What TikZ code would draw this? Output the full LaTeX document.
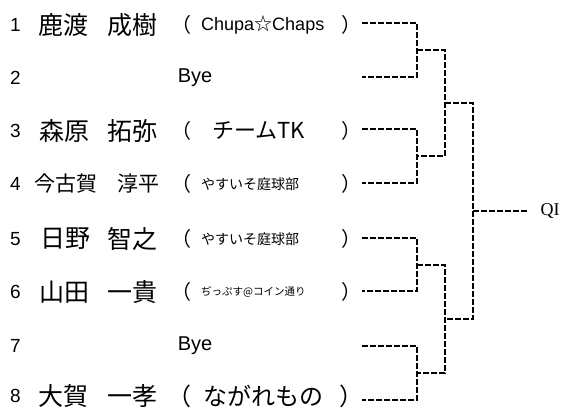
\documentclass[tikz,border=0pt]{standalone}
\usepackage{fontspec}
\setmainfont{Liberation Sans}
\newfontfamily\jp{Noto Sans CJK JP}
\newfontfamily\tms{Liberation Serif}
\begin{document}
\begin{tikzpicture}[x=1pt,y=-1pt,
  num/.style={font=\fontsize{19}{22}\selectfont, anchor=west, inner sep=0pt},
  nm/.style={font=\jp\fontsize{25}{30}\selectfont, anchor=west, inner sep=0pt},
  nmsmall/.style={font=\jp\fontsize{21}{25}\selectfont, anchor=west, inner sep=0pt},
  lp/.style={font=\jp\fontsize{20}{24}\selectfont, anchor=east, inner sep=0pt},
  rp/.style={font=\jp\fontsize{20}{24}\selectfont, anchor=west, inner sep=0pt},
  aff/.style={anchor=west, inner sep=0pt},
  bye/.style={font=\fontsize{20}{24}\selectfont, inner sep=0pt},
  bk/.style={line width=1.3pt, dash pattern=on 6pt off 2pt}]
\useasboundingbox (0,0) rectangle (574,410);
% row 1
\node[num] (n1) at (10,25) {1};
\node[nm] (a1) at (38,25) {鹿渡};
\node[nm] (b1) at (107,25) {成樹};
\node[lp] (l1) at (192,25) {（};
\node[aff, font=\fontsize{18}{22}\selectfont] (t1) at (201,25) {Chupa{\jp ☆}Chaps};
\node[rp] (r1) at (341,25) {）};
% row 2
\node[num] (n2) at (10,78) {2};
\node[bye] (t2) at (195,78) {Bye};
% row 3
\node[num] (n3) at (10,131) {3};
\node[nm] (a3) at (39,131) {森原};
\node[nm] (b3) at (107,131) {拓弥};
\node[lp] (l3) at (192,131) {（};
\node[aff, font=\jp\fontsize{22}{26}\selectfont] (t3) at (212,131) {チームTK};
\node[rp] (r3) at (341,131) {）};
% row 4
\node[num] (n4) at (10,184) {4};
\node[nmsmall] (a4) at (34,184) {今古賀};
\node[nmsmall] (b4) at (117,184) {淳平};
\node[lp] (l4) at (192,184) {（};
\node[aff, font=\jp\fontsize{14}{17}\selectfont] (t4) at (201,184) {やすいそ庭球部};
\node[rp] (r4) at (341,184) {）};
% row 5
\node[num] (n5) at (10,239) {5};
\node[nm] (a5) at (40,239) {日野};
\node[nm] (b5) at (107,239) {智之};
\node[lp] (l5) at (192,239) {（};
\node[aff, font=\jp\fontsize{14}{17}\selectfont] (t5) at (201,239) {やすいそ庭球部};
\node[rp] (r5) at (341,239) {）};
% row 6
\node[num] (n6) at (10,292) {6};
\node[nm] (a6) at (39,292) {山田};
\node[nm] (b6) at (107,292) {一貴};
\node[lp] (l6) at (192,292) {（};
\node[aff, font=\jp\fontsize{10.5}{13}\selectfont] (t6) at (201,292) {ぢっぷす@コイン通り};
\node[rp] (r6) at (341,292) {）};
% row 7
\node[num] (n7) at (10,346) {7};
\node[bye] (t7) at (195,346) {Bye};
% row 8
\node[num] (n8) at (10,396) {8};
\node[nm] (a8) at (38,396) {大賀};
\node[nm] (b8) at (107,396) {一孝};
\node[lp, font=\jp\fontsize{24}{28}\selectfont] (l8) at (192,396) {（};
\node[aff, font=\jp\fontsize{24}{28}\selectfont] (t8) at (203,396) {ながれもの};
\node[rp, font=\jp\fontsize{24}{28}\selectfont] (r8) at (339,396) {）};
% line starts
\coordinate (s1) at (362,23);
\coordinate (s2) at (362,77);
\coordinate (s3) at (362,129);
\coordinate (s4) at (362,183);
\coordinate (s5) at (362,238);
\coordinate (s6) at (362,291);
\coordinate (s7) at (362,346);
\coordinate (s8) at (362,400);
% bracket joints
\coordinate (m12) at (417,50);
\coordinate (m34) at (417,156);
\coordinate (m56) at (417,265);
\coordinate (m78) at (417,373);
\coordinate (m1234) at (445,103);
\coordinate (m5678) at (445,319);
\coordinate (mall) at (473,211);
\coordinate (q) at (528,211);
\node[font=\tms\fontsize{18}{22}\selectfont, inner sep=0pt] (qi) at (550,211) {QI};
% brackets
\draw[bk] (s1) -| (m12) |- (s2);
\draw[bk] (s3) -| (m34) |- (s4);
\draw[bk] (s5) -| (m56) |- (s6);
\draw[bk] (s7) -| (m78) |- (s8);
\draw[bk] (m12) -| (m1234) |- (m34);
\draw[bk] (m56) -| (m5678) |- (m78);
\draw[bk] (m1234) -| (mall) |- (m5678);
\draw[bk] (mall) -- (q);
\end{tikzpicture}
\end{document}
